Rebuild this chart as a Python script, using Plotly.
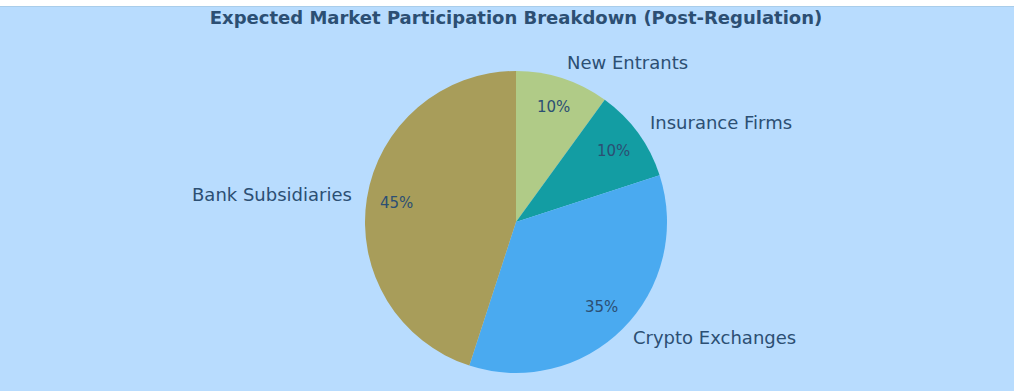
import math
import plotly.graph_objects as go

labels = ["New Entrants", "Insurance Firms", "Crypto Exchanges", "Bank Subsidiaries"]
values = [10, 10, 35, 45]
colors = ["#b0cb87", "#139da3", "#4aaaf0", "#a89d5a"]
title = "Expected Market Participation Breakdown (Post-Regulation)"

W, H = 1014, 391
CX, CY, R = 516, 222, 151  # pie centre / radius in pixels
TXT = "#2c4f73"
FONT = "DejaVu Sans"

fig = go.Figure()
fig.add_trace(go.Pie(
    labels=labels, values=values, sort=False, direction="clockwise", rotation=0,
    marker=dict(colors=colors, line=dict(width=0)),
    textinfo="none", hoverinfo="label+percent", showlegend=False,
    domain=dict(x=[(CX - R) / W, (CX + R) / W], y=[1 - (CY + R) / H, 1 - (CY - R) / H]),
))

total = sum(values)
annotations = []
cum = 0.0
for lab, v in zip(labels, values):
    mid = (cum + v / 2) / total * 2 * math.pi
    cum += v
    s, c = math.sin(mid), math.cos(mid)
    # percentage inside
    px_, py_ = CX + 0.8 * R * s, CY - 0.8 * R * c
    annotations.append(dict(x=px_ / W, y=1 - py_ / H, xref="paper", yref="paper",
                            text=f"{v / total * 100:.0f}%", showarrow=False,
                            xanchor="center", yanchor="middle", borderpad=0, borderwidth=0,
                            font=dict(family=FONT, size=15, color=TXT)))
    # label outside
    lx, ly = CX + 1.1 * R * s, CY - 1.1 * R * c
    annotations.append(dict(x=lx / W, y=1 - ly / H, xref="paper", yref="paper",
                            text=lab, showarrow=False, borderpad=0, borderwidth=0, yshift=1.5,
                            xanchor="left" if s >= 0 else "right", yanchor="middle",
                            font=dict(family=FONT, size=18, color=TXT)))

fig.update_layout(
    width=W, height=H,
    margin=dict(l=0, r=0, t=0, b=0),
    paper_bgcolor="#b8dcfe", plot_bgcolor="#b8dcfe",
    title=dict(text=f"<b>{title}</b>", x=(CX) / W, xanchor="center",
               y=1 - 18 / H, yanchor="middle", yref="container",
               font=dict(family=FONT, size=18, color=TXT)),
    annotations=annotations,
    shapes=[dict(type="rect", xref="paper", yref="paper", x0=0, x1=1,
                 y0=1 - 6 / H, y1=1.01, fillcolor="white", line=dict(width=0), layer="below"),
            dict(type="line", xref="paper", yref="paper", x0=0, x1=1,
                 y0=1 - 6.5 / H, y1=1 - 6.5 / H, line=dict(color="#a9cdea", width=1))],
)

fig.write_html("out.html")
